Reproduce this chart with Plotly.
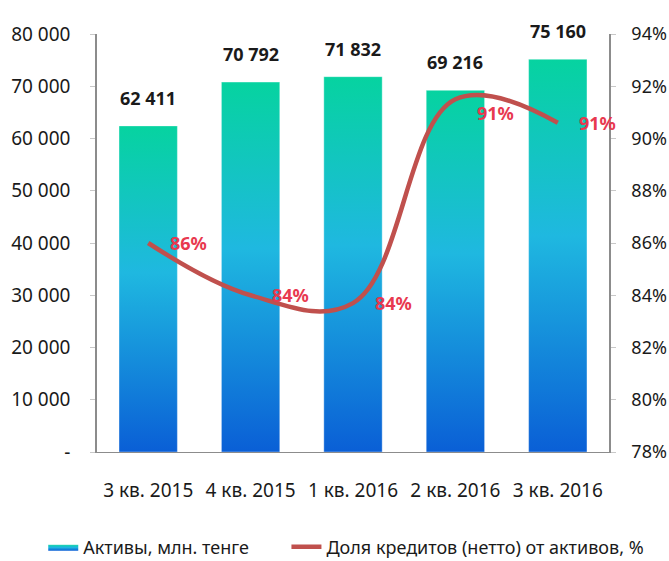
import plotly.graph_objects as go

# --------------------------------------------------------------
# Data
# --------------------------------------------------------------
quarters = ["3 кв. 2015", "4 кв. 2015", "1 кв. 2016", "2 кв. 2016", "3 кв. 2016"]
assets = [62411, 70792, 71832, 69216, 75160]          # млн. тенге
loan_share = [86.0, 84.0, 83.7, 91.5, 90.6]            # %
loan_labels = ["86%", "84%", "84%", "91%", "91%"]

left_ticks = [0, 10000, 20000, 30000, 40000, 50000, 60000, 70000, 80000]
left_ticktext = ["-", "10 000", "20 000", "30 000", "40 000", "50 000", "60 000", "70 000", "80 000"]
right_ticks = [78, 80, 82, 84, 86, 88, 90, 92, 94]

# --------------------------------------------------------------
# Style
# --------------------------------------------------------------
FONT = "Noto Sans, sans-serif"
BAR_W = 0.57
bar_scale = [[0, "#0a5fd6"], [0.55, "#1fb8e0"], [1, "#06d3a0"]]
line_color = "#c0504d"
pct_color = "#e8394f"
axis_color = "#8c8c8c"

fig = go.Figure()

# bars as filled polygons so each one can carry a vertical gradient
for i, v in enumerate(assets):
    x0, x1 = i - BAR_W / 2, i + BAR_W / 2
    fig.add_trace(go.Scatter(
        x=[x0, x1, x1, x0, x0],
        y=[0, 0, v, v, 0],
        mode="lines",
        fill="toself",
        fillgradient=dict(type="vertical", colorscale=bar_scale, start=0, stop=v),
        line=dict(width=0.6, color="rgba(255,255,255,0.6)"),
        name="Активы, млн. тенге",
        legendgroup="assets",
        legend="legend",
        showlegend=(i == 0),
        hoverinfo="skip",
    ))

# loan share line (secondary axis)
fig.add_trace(go.Scatter(
    x=list(range(len(quarters))),
    y=loan_share,
    yaxis="y2",
    mode="lines",
    line=dict(color=line_color, width=4.5, shape="spline", smoothing=1.1),
    name="Доля кредитов (нетто) от активов, %",
    legend="legend2",
))

# value labels above bars
for i, v in enumerate(assets):
    fig.add_annotation(
        x=i, y=v, xref="x", yref="y",
        text=f"<b>{v:,}</b>".replace(",", " "),
        showarrow=False, yanchor="bottom", yshift=14,
        font=dict(family=FONT, size=18, color="#1a1a1a"),
    )

# percentage labels right of each point
for i, (p, lab) in enumerate(zip(loan_share, loan_labels)):
    fig.add_annotation(
        x=i, y=p, xref="x", yref="y2",
        text=f"<b>{lab}</b>",
        showarrow=False, xshift=40, yshift=(-14 if i == 3 else 0),
        font=dict(family=FONT, size=18, color=pct_color),
    )

legend_common = dict(
    orientation="h",
    yref="container", y=0.025, yanchor="middle",
    font=dict(family=FONT, size=18),
    itemwidth=30,
)

fig.update_layout(
    width=669, height=561,
    margin=dict(l=97, r=60, t=34, b=109),
    plot_bgcolor="white",
    paper_bgcolor="white",
    font=dict(family=FONT, size=19, color="#1a1a1a"),
    xaxis=dict(
        range=[-0.5, len(quarters) - 0.5],
        tickvals=list(range(len(quarters))),
        ticktext=quarters,
        showgrid=False, zeroline=False,
        showline=True, linecolor=axis_color, linewidth=1,
        ticks="", ticklabelstandoff=21, automargin=False,
    ),
    yaxis=dict(
        range=[0, 80000],
        tickvals=left_ticks, ticktext=left_ticktext,
        showgrid=False, zeroline=False,
        showline=True, linecolor=axis_color, linewidth=1.5,
        ticks="outside", ticklen=5, tickcolor="#c8c8c8",
        ticklabelstandoff=16, automargin=False,
    ),
    yaxis2=dict(
        range=[78, 94],
        tickvals=right_ticks, ticktext=[f"{t}%" for t in right_ticks],
        tickfont=dict(size=18),
        overlaying="y", side="right",
        showgrid=False, zeroline=False,
        showline=True, linecolor=axis_color, linewidth=1.5,
        ticks="outside", ticklen=5, tickcolor="#c8c8c8",
        ticklabelstandoff=12, automargin=False,
    ),
    legend=dict(x=-0.105, xanchor="left", **legend_common),
    legend2=dict(x=0.37, xanchor="left", **legend_common),
    showlegend=True,
)

# page body has a default 8px margin; drop it so the figure sits at the corner
fig.write_html(
    "out.html",
    config={"displayModeBar": False},
    post_script="document.body.style.margin='0';",
)
